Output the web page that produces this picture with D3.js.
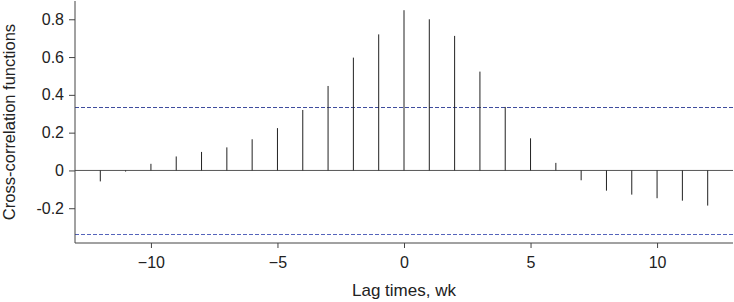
<!DOCTYPE html>
<html>
<head>
<meta charset="utf-8">
<script src="https://cdn.jsdelivr.net/npm/d3@7"></script>
<style>
  body { margin: 0; background: #fff; }
  svg { display: block; }
</style>
</head>
<body>
<div id="chart"></div>
<script>
// lag in weeks and cross-correlation
const lags = [-12, -11, -10, -9, -8, -7, -6, -5, -4, -3, -2, -1, 0, 1, 2, 3, 4, 5, 6, 7, 8, 9, 10, 11, 12];
const ccf = [-0.058, -0.006, 0.035, 0.074, 0.098, 0.122, 0.165, 0.224, 0.32, 0.447, 0.597, 0.72, 0.848, 0.80, 0.712, 0.523, 0.336, 0.17, 0.04, -0.052, -0.107, -0.128, -0.147, -0.16, -0.186];
const bounds = [0.335, -0.334];
const xTicks = [-10, -5, 0, 5, 10];
const yTicks = [-0.2, 0, 0.2, 0.4, 0.6, 0.8];

const W = 734, H = 302;
const svg = d3.select("#chart").append("svg")
  .attr("width", W).attr("height", H);

const x = d3.scaleLinear().domain([-13, 13]).range([75, 733]);
const y = d3.scaleLinear().domain([-0.384, 0.902]).range([243, 0]);

const font = "'Liberation Sans', Arial, sans-serif";
const narrow = "'Liberation Sans Narrow', 'Liberation Sans', sans-serif";

// zero line
svg.append("line")
  .attr("x1", x(-13)).attr("x2", x(13))
  .attr("y1", y(0)).attr("y2", y(0))
  .attr("stroke", "#555").attr("stroke-width", 1);

// confidence bounds
svg.selectAll(".bound")
  .data(bounds)
  .enter().append("line")
  .attr("class", "bound")
  .attr("x1", x(-13)).attr("x2", x(13))
  .attr("y1", d => Math.round(y(d)) + 0.5).attr("y2", d => Math.round(y(d)) + 0.5)
  .attr("stroke", (d, i) => i === 0 ? "#3f4d9e" : "#5564bb")
  .attr("stroke-width", 1)
  .attr("stroke-dasharray", "4,2");

// spikes
svg.selectAll(".spike")
  .data(lags.map((l, i) => ({ lag: l, v: ccf[i] })))
  .enter().append("line")
  .attr("class", "spike")
  .attr("x1", d => x(d.lag)).attr("x2", d => x(d.lag))
  .attr("y1", y(0)).attr("y2", d => y(d.v))
  .attr("stroke", "#222").attr("stroke-width", 1);

// axes
const yAxis = svg.append("g")
  .attr("transform", `translate(${x(-13)},0)`)
  .call(d3.axisLeft(y).tickValues(yTicks).tickSize(6).tickPadding(5)
    .tickFormat(d => d === 0 ? "0" : d3.format(".1f")(d).replace("−", "-")));
yAxis.select(".domain").attr("stroke", "#444").attr("d", `M0,1V${y(-0.384)}`);
yAxis.selectAll(".tick line").attr("stroke", "#444");
yAxis.selectAll("text").style("font-family", font).style("font-size", "16px").attr("fill", "#222");

const xAxis = svg.append("g")
  .attr("transform", `translate(0,${y(-0.384)})`)
  .call(d3.axisBottom(x).tickValues(xTicks).tickSize(5).tickPadding(9));
xAxis.select(".domain").attr("stroke", "#444").attr("d", `M${x(-13)},0H${x(13)}`);
xAxis.selectAll(".tick line").attr("stroke", "#444");
xAxis.selectAll("text").style("font-family", narrow).style("font-size", "16px").attr("fill", "#222");

// titles
svg.append("text")
  .attr("x", x(0)).attr("y", 296)
  .attr("text-anchor", "middle")
  .style("font-family", narrow).style("font-size", "17px").attr("fill", "#222")
  .text("Lag times, wk");

svg.append("text")
  .attr("transform", `translate(15,${122}) rotate(-90)`)
  .attr("text-anchor", "middle")
  .style("font-family", font).style("font-size", "16.5px").attr("fill", "#222")
  .text("Cross-correlation functions");
</script>
</body>
</html>
